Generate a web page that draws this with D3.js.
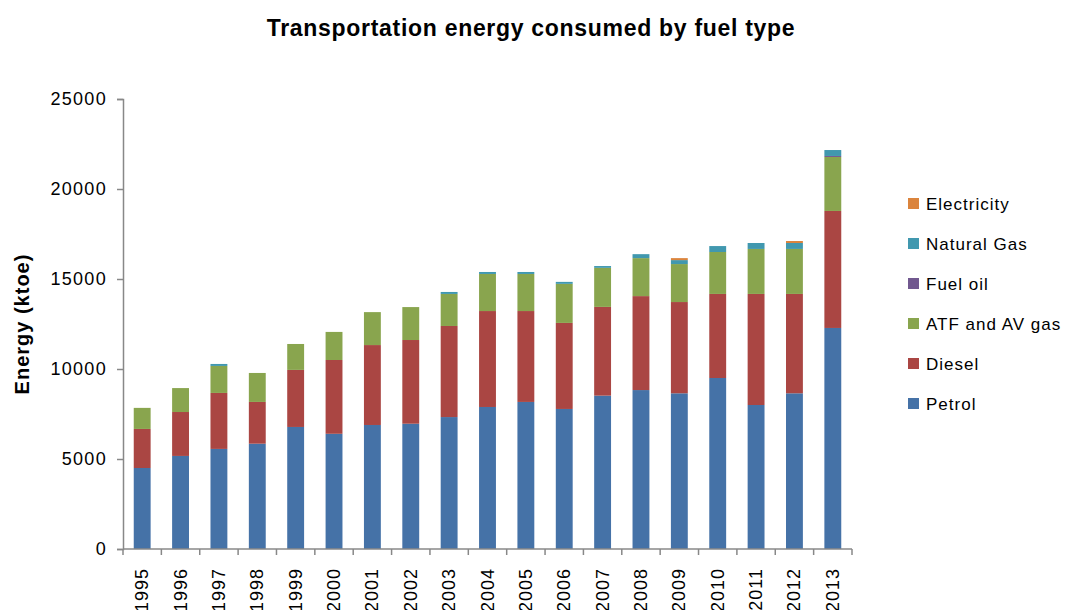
<!DOCTYPE html>
<html>
<head>
<meta charset="utf-8">
<script src="https://cdn.jsdelivr.net/npm/d3@7"></script>
<style>
  body { margin: 0; background: white; }
  svg text { font-family: "Liberation Sans", Arial, sans-serif; fill: #000; }
</style>
</head>
<body>
<div id="chart"></div>
<script>
var years = ["1995","1996","1997","1998","1999","2000","2001","2002","2003","2004",
             "2005","2006","2007","2008","2009","2010","2011","2012","2013"];

// ktoe
var petrol      = [4500,5170,5560,5850,6780,6400,6890,6960,7330,7890,8170,7780,8520,8830,8650,9500,8000,8650,12280];
var diesel      = [2170,2440,3110,2320,3170,4100,4440,4650,5060,5330,5050,4780,4930,5220,5070,4670,6170,5520,6500];
var atf         = [1170,1330,1500,1610,1440,1560,1830,1830,1780,2060,2060,2170,2170,2110,2110,2330,2500,2500,3000];
var fuelOil     = [0,0,0,0,0,0,0,0,0,0,0,0,0,0,0,0,0,0,55];
var naturalGas  = [0,0,110,0,0,0,0,0,110,110,110,110,100,220,220,330,330,330,330];
var electricity = [0,0,0,0,0,0,0,0,0,0,0,0,0,0,110,0,0,110,0];

var seriesNames = ["Petrol","Diesel","ATF and AV gas","Fuel oil","Natural Gas","Electricity"];
var seriesColors = ["#4572A7","#AA4643","#89A54E","#71588F","#4198AF","#DB843D"];
var yTicks = [0,5000,10000,15000,20000,25000];

var width = 1066, height = 610;
var margin = {top: 99, left: 123, right: 214, bottom: 61};

var rows = years.map(function(y, i) {
  return {year: y, "Petrol": petrol[i], "Diesel": diesel[i], "ATF and AV gas": atf[i],
          "Fuel oil": fuelOil[i], "Natural Gas": naturalGas[i], "Electricity": electricity[i]};
});

var svg = d3.select("#chart").append("svg")
    .attr("width", width)
    .attr("height", height);

var x = d3.scaleBand()
    .domain(years)
    .range([margin.left, width - margin.right])
    .paddingInner(0.56)
    .paddingOuter(0.28);

var y = d3.scaleLinear()
    .domain([0, 25000])
    .range([height - margin.bottom, margin.top]);

var color = d3.scaleOrdinal().domain(seriesNames).range(seriesColors);

var stacked = d3.stack().keys(seriesNames)(rows);

svg.append("g")
  .selectAll("g")
  .data(stacked)
  .enter().append("g")
    .attr("fill", function(d) { return color(d.key); })
  .selectAll("rect")
  .data(function(d) { return d; })
  .enter().append("rect")
    .attr("x", function(d) { return x(d.data.year); })
    .attr("width", x.bandwidth())
    .attr("y", function(d) { return y(d[1]); })
    .attr("height", function(d) { return y(d[0]) - y(d[1]); });

// y axis
var yAxis = svg.append("g")
    .attr("transform", "translate(" + margin.left + ",0)")
    .call(d3.axisLeft(y).tickValues(yTicks).tickSize(6).tickPadding(10).tickFormat(d3.format("d")));
yAxis.select(".domain").attr("stroke", "#888").attr("stroke-width", 1.5);
yAxis.selectAll(".tick line").attr("stroke", "#888").attr("stroke-width", 1.5);
yAxis.selectAll(".tick text").attr("font-size", 18).style("letter-spacing", "1.3px")
    .attr("font-family", "Liberation Sans, Arial, sans-serif");

// x axis, ticks between categories
var xAxisY = y(0);
svg.append("line")
    .attr("x1", margin.left).attr("x2", width - margin.right)
    .attr("y1", xAxisY).attr("y2", xAxisY)
    .attr("stroke", "#888").attr("stroke-width", 1.5);
svg.append("g").selectAll("line")
  .data(years.concat(["end"]))
  .enter().append("line")
    .attr("x1", function(d, i) { return margin.left + i * x.step(); })
    .attr("x2", function(d, i) { return margin.left + i * x.step(); })
    .attr("y1", xAxisY).attr("y2", xAxisY + 6)
    .attr("stroke", "#888").attr("stroke-width", 1.5);

svg.append("g").selectAll("text")
  .data(years)
  .enter().append("text")
    .attr("transform", function(d) {
      return "translate(" + (x(d) + x.bandwidth() / 2 + 6) + "," + (xAxisY + 19) + ") rotate(-90)";
    })
    .attr("text-anchor", "end")
    .attr("font-size", 18)
    .style("letter-spacing", "1px")
    .text(function(d) { return d; });

// titles
svg.append("text")
    .attr("x", 531).attr("y", 36)
    .attr("text-anchor", "middle")
    .attr("font-size", 23)
    .attr("font-weight", "bold")
    .style("letter-spacing", "0.7px")
    .text("Transportation energy consumed by fuel type");

svg.append("text")
    .attr("transform", "translate(29," + ((margin.top + height - margin.bottom) / 2) + ") rotate(-90)")
    .attr("text-anchor", "middle")
    .attr("font-size", 20)
    .attr("font-weight", "bold")
    .style("letter-spacing", "1px")
    .text("Energy (ktoe)");

// legend, top entry is last series
var legend = svg.append("g").selectAll("g")
  .data(seriesNames.slice().reverse())
  .enter().append("g")
    .attr("transform", function(d, i) { return "translate(908," + (204 + i * 40) + ")"; });
legend.append("rect")
    .attr("x", 0).attr("y", -6)
    .attr("width", 11).attr("height", 11)
    .attr("fill", function(d) { return color(d); });
legend.append("text")
    .attr("x", 18).attr("y", 6)
    .attr("font-size", 17)
    .style("letter-spacing", "1px")
    .text(function(d) { return d; });
</script>
</body>
</html>
